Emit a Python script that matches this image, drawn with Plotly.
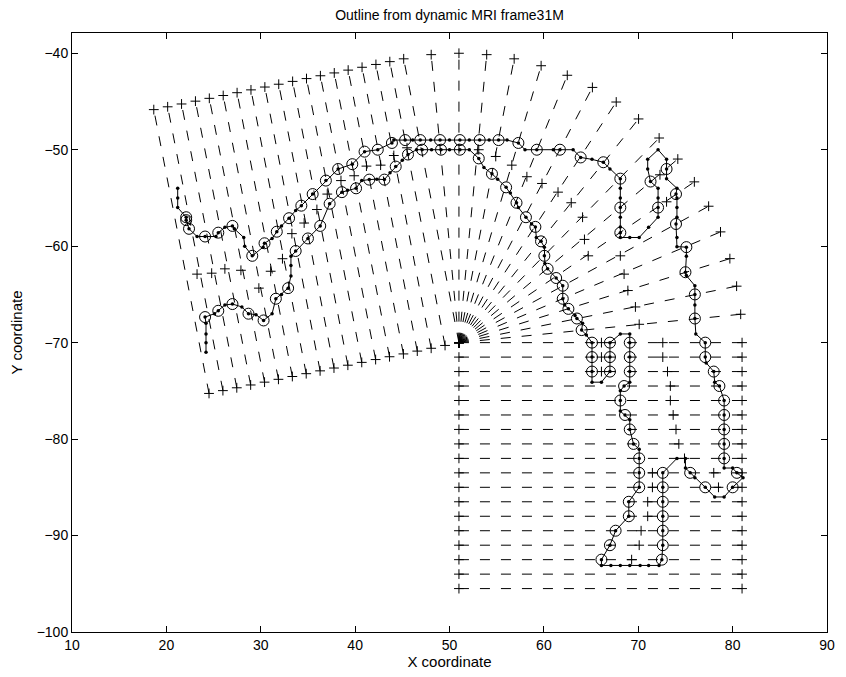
import numpy as np
import plotly.graph_objects as go

# ---------------------------------------------------------------------------
# Measurement grid: polar fan + two linear sections sharing one origin
# ---------------------------------------------------------------------------
grid_origin = (51.0, -70.0)
gridline_length = 30.0

# polar section: ray directions (degrees, counter-clockwise from +x)
polar_angles = [0.0, 5.625, 11.25, 16.875, 22.5, 28.125, 33.75, 39.375, 45.0,
                50.625, 56.25, 61.875, 67.5, 73.125, 78.75, 84.375, 90.0,
                95.625, 101.25]

# lower linear section: horizontal gridlines, inner/outer x limits
lower_rows_y = [-71.5, -73.0, -74.5, -76.0, -77.5, -79.0, -80.5, -82.0, -83.5,
                -85.0, -86.5, -88.0, -89.5, -91.0, -92.5, -94.0, -95.5]
lower_x_inner = 51.0
lower_x_outer = 81.0

# back linear section: parallel gridlines stepped along the base direction
back_offsets = [1.5, 3.0, 4.5, 6.0, 7.5, 9.0, 10.5, 12.0, 13.5, 15.0, 16.5,
                18.0, 19.5, 21.0, 22.5, 24.0, 25.5, 27.0]
back_base_angle = 191.25
back_line_angle = 101.25

# ---------------------------------------------------------------------------
# Tracked outline (vertices in drawing order) and which ones sit on gridlines
# ---------------------------------------------------------------------------
outline_x = [21.2, 21.2, 21.2, 22.1, 22.1, 22.4, 23.25, 24.1, 25.25, 25.5,
             26.2, 27.0, 27.2, 28.2, 28.3, 29.1, 30.25, 30.4, 31.2, 31.7,
             32.2, 33.0, 33.7, 34.3, 35.5, 36.9, 38.2, 39.7, 41.0, 42.4,
             43.9, 44.1, 45.3, 46.1, 46.9, 48.0, 49.0, 50.0, 51.1, 52.1,
             53.2, 54.2, 55.2, 56.1, 57.3, 58.0, 59.25, 61.0, 61.7, 63.1,
             63.9, 65.1, 66.3, 67.0, 68.1, 68.1, 68.1, 68.1, 68.1, 68.1,
             68.1, 68.1, 69.1, 70.1, 71.1, 72.1, 72.1, 72.1, 72.1, 71.3,
             71.0, 71.0, 72.1, 73.0, 73.0, 73.0, 74.1, 74.0, 74.1, 74.1,
             74.1, 74.0, 74.1, 74.1, 75.1, 75.1, 75.0, 75.1, 76.0, 76.0,
             76.0, 76.0, 76.1, 77.1, 77.1, 77.2, 78.0, 78.1, 78.6, 79.1,
             79.1, 79.1, 79.1, 79.1, 79.1, 80.0, 80.45, 81.1, 80.0, 79.1,
             78.1, 77.1, 76.0, 75.5, 75.0, 75.0, 74.1, 72.6, 72.6, 72.6,
             72.6, 72.6, 72.6, 72.5, 72.2, 71.1, 70.2, 69.1, 68.1, 67.1,
             66.1, 66.1, 67.0, 67.6, 69.0, 69.0, 70.1, 70.1, 70.1, 70.1,
             69.5, 69.1, 69.1, 68.6, 68.1, 68.1, 68.1, 68.5, 69.1, 69.1,
             69.1, 69.1, 69.1, 68.1, 67.0, 67.0, 67.0, 66.1, 65.1, 65.1,
             65.1, 65.1, 64.5, 64.0, 64.1, 63.5, 63.3, 62.6, 62.2, 62.0,
             62.0, 61.3, 60.4, 60.1, 60.05, 60.05, 59.7, 59.2, 59.1, 58.7,
             58.1, 57.3, 57.1, 56.45, 56.0, 55.1, 54.5, 53.65, 53.1, 52.1,
             51.1, 50.0, 49.1, 48.1, 47.1, 46.5, 45.6, 45.0, 44.3, 43.7,
             43.1, 42.3, 41.5, 40.7, 40.1, 39.2, 38.6, 37.3, 36.3, 35.0,
             33.7, 33.2, 33.2, 33.2, 32.9, 32.2, 31.6, 31.2, 30.3, 29.5,
             28.7, 28.0, 27.0, 26.2, 25.5, 25.1, 24.1, 24.2, 24.2, 24.2,
             24.2]
outline_y = [-54.0, -55.0, -56.0, -57.0, -57.3, -58.2, -59.0, -59.0, -59.0, -58.6,
             -58.05, -57.9, -58.2, -59.1, -60.0, -61.0, -60.1, -59.7, -59.2, -58.5,
             -57.9, -57.1, -56.3, -55.8, -54.6, -53.2, -52.0, -51.5, -50.2, -50.0,
             -49.3, -49.0, -49.0, -49.0, -49.0, -49.0, -49.0, -49.0, -49.0, -49.0,
             -49.0, -49.0, -49.0, -49.0, -49.3, -50.0, -50.0, -50.0, -50.0, -50.0,
             -50.8, -51.0, -51.3, -52.0, -53.0, -54.0, -55.0, -56.0, -57.0, -58.0,
             -58.6, -59.1, -59.1, -59.1, -58.05, -57.0, -56.0, -55.0, -54.0, -53.3,
             -52.0, -51.0, -50.0, -51.0, -52.0, -53.0, -54.0, -54.6, -55.0, -56.0,
             -57.0, -57.7, -59.1, -60.05, -60.1, -61.05, -62.7, -63.05, -64.1, -65.0,
             -66.1, -67.5, -69.1, -70.0, -71.5, -72.1, -73.0, -74.1, -74.5, -76.0,
             -77.5, -79.0, -80.5, -82.0, -83.0, -83.0, -83.5, -84.0, -85.0, -86.0,
             -86.0, -85.0, -84.0, -83.5, -83.0, -82.0, -82.0, -83.5, -85.0, -86.5,
             -88.0, -89.5, -91.0, -92.5, -93.1, -93.1, -93.1, -93.1, -93.1, -93.1,
             -93.1, -92.5, -91.0, -89.5, -88.0, -86.5, -85.0, -83.5, -82.0, -81.05,
             -80.5, -79.0, -78.0, -77.5, -77.1, -76.0, -75.0, -74.5, -74.1, -73.0,
             -71.5, -70.0, -69.1, -69.1, -70.0, -71.5, -73.0, -74.1, -74.1, -73.0,
             -71.5, -70.0, -69.2, -68.7, -68.0, -67.5, -67.2, -66.5, -66.1, -65.45,
             -64.1, -63.3, -62.35, -61.8, -61.0, -60.1, -59.5, -59.1, -58.0, -57.7,
             -57.0, -56.0, -55.5, -54.5, -53.9, -53.05, -52.5, -51.85, -50.9, -50.0,
             -50.0, -50.0, -50.0, -50.0, -50.0, -50.0, -50.5, -51.1, -51.75, -52.4,
             -53.1, -53.05, -53.1, -53.2, -54.0, -54.2, -54.4, -55.6, -57.9, -59.2,
             -60.5, -61.05, -62.0, -63.1, -64.35, -65.0, -65.45, -67.0, -67.7, -67.1,
             -67.0, -66.3, -66.0, -66.1, -66.7, -67.0, -67.35, -68.0, -69.1, -70.0,
             -71.0]
on_gridline = [0, 0, 0, 1, 1, 1, 0, 1, 0, 1,
               0, 1, 0, 0, 0, 1, 0, 1, 0, 1,
               0, 1, 0, 1, 1, 1, 1, 1, 1, 1,
               1, 0, 1, 0, 1, 0, 1, 0, 1, 0,
               1, 0, 1, 0, 1, 0, 1, 0, 1, 0,
               1, 0, 1, 0, 1, 0, 0, 1, 0, 0,
               1, 0, 0, 0, 0, 0, 1, 0, 0, 1,
               0, 0, 0, 0, 1, 0, 0, 1, 0, 0,
               0, 1, 0, 0, 1, 0, 1, 0, 0, 1,
               0, 1, 0, 1, 1, 0, 1, 0, 1, 1,
               1, 1, 1, 1, 0, 0, 1, 0, 1, 0,
               0, 1, 0, 1, 0, 0, 0, 1, 1, 1,
               1, 1, 1, 1, 0, 0, 0, 0, 0, 0,
               0, 1, 1, 1, 1, 1, 1, 1, 1, 0,
               1, 1, 0, 1, 0, 1, 0, 1, 0, 1,
               1, 1, 0, 0, 1, 1, 1, 0, 0, 1,
               1, 1, 0, 1, 0, 1, 0, 1, 0, 1,
               1, 1, 1, 0, 1, 0, 1, 0, 1, 0,
               1, 0, 1, 0, 1, 0, 1, 0, 1, 0,
               1, 0, 1, 0, 1, 0, 1, 0, 1, 0,
               1, 0, 1, 0, 1, 0, 1, 1, 1, 1,
               1, 0, 0, 0, 1, 0, 1, 0, 1, 0,
               1, 0, 1, 0, 1, 0, 1, 0, 0, 0,
               0]

# Candidate edge points from the intensity search along each gridline
candidate_x = [23.25, 24.8, 26.2, 27.9, 29.8, 31.05, 32.3, 33.3, 34.6, 35.95,
               37.05, 38.5, 39.9, 41.2, 42.7, 44.1, 45.5,
               53.1, 54.9, 56.6, 58.2, 59.8, 61.5, 62.9, 64.1, 64.3, 64.7,
               72.3, 73.0, 68.1, 68.5, 68.9, 69.7, 70.1, 72.6, 72.6, 73.1,
               73.4, 73.4, 73.7, 74.0, 74.3, 74.9,
               66.1, 66.1, 66.1,
               71.5, 71.5, 71.0, 71.0, 70.3, 70.1, 69.3, 78.0, 78.5]
candidate_y = [-62.9, -62.8, -62.35, -62.5, -64.35, -62.6, -61.3, -58.7, -57.6, -56.2,
               -54.6, -53.2, -52.7, -51.7, -51.6, -50.6, -49.8,
               -50.0, -50.7, -51.6, -52.8, -53.5, -54.4, -55.5, -57.0, -59.3, -61.0,
               -52.6, -55.4, -61.0, -62.9, -64.6, -66.3, -68.1, -70.0, -71.5, -73.0,
               -74.5, -76.0, -77.5, -79.0, -80.5, -82.0,
               -70.0, -71.5, -73.0,
               -83.5, -85.0, -86.5, -88.0, -89.5, -91.0, -92.5, -83.5, -85.0]

title_text = "Outline from dynamic MRI frame31M"
x_label = "X coordinate"
y_label = "Y coordinate"

# ---------------------------------------------------------------------------
# Gridline segments (each drawn from its inner end outward)
# ---------------------------------------------------------------------------
ox, oy = grid_origin
segments = []
for a in polar_angles:
    t = np.deg2rad(a)
    segments.append((ox, oy, ox + gridline_length * np.cos(t),
                     oy + gridline_length * np.sin(t)))
for yr in lower_rows_y:
    segments.append((lower_x_inner, yr, lower_x_outer, yr))
tb = np.deg2rad(back_base_angle)
tl = np.deg2rad(back_line_angle)
for d in back_offsets:
    bx = ox + d * np.cos(tb)
    by = oy + d * np.sin(tb)
    segments.append((bx, by, bx + gridline_length * np.cos(tl),
                     by + gridline_length * np.sin(tl)))

line_x, line_y, end_x, end_y = [], [], [], []
for x0, y0, x1, y1 in segments:
    line_x += [x0, x1, None]
    line_y += [y0, y1, None]
    end_x += [x0, x1]
    end_y += [y0, y1]

plus_marker = dict(symbol="cross-thin-open", size=7, color="black",
                   line=dict(color="black", width=1))

fig = go.Figure()

fig.add_trace(go.Scatter(
    x=line_x, y=line_y, mode="lines", hoverinfo="skip",
    line=dict(color="black", width=1, dash="10px,11px"),
))
fig.add_trace(go.Scatter(
    x=end_x, y=end_y, mode="markers", hoverinfo="skip", marker=plus_marker,
))
fig.add_trace(go.Scatter(
    x=candidate_x, y=candidate_y, mode="markers", marker=plus_marker,
))
fig.add_trace(go.Scatter(
    x=outline_x, y=outline_y, mode="lines+markers",
    line=dict(color="black", width=1),
    marker=dict(symbol="circle", size=3.5, color="black"),
))
cx = [x for x, f in zip(outline_x, on_gridline) if f]
cy = [y for y, f in zip(outline_y, on_gridline) if f]
fig.add_trace(go.Scatter(
    x=cx, y=cy, mode="markers",
    marker=dict(symbol="circle-open", size=11, color="black",
                line=dict(color="black", width=1)),
))

font_family = "Liberation Sans, Arial, Helvetica, sans-serif"
axis_common = dict(
    showgrid=False, zeroline=False, showline=True, linecolor="black",
    linewidth=1, mirror="allticks", ticks="inside", ticklen=6,
    tickcolor="black", tickwidth=1,
    tickfont=dict(family=font_family, size=14, color="black"),
)

fig.update_layout(
    width=846, height=677,
    margin=dict(l=72, r=11, t=33, b=43),
    paper_bgcolor="white", plot_bgcolor="white",
    showlegend=False,
    title=dict(text=title_text, x=0.5, xref="paper", y=0.978, yref="container",
               yanchor="middle",
               font=dict(family=font_family, size=14, color="black")),
    xaxis=dict(range=[10, 90], tickmode="linear", tick0=10, dtick=10,
               title=dict(text=x_label, standoff=3,
                          font=dict(family=font_family, size=15, color="black")),
               **axis_common),
    yaxis=dict(range=[-100, -37.9], tickmode="linear", tick0=-100, dtick=10,
               title=dict(text=y_label, standoff=10,
                          font=dict(family=font_family, size=15, color="black")),
               **axis_common),
)

fig.write_html("out.html")
